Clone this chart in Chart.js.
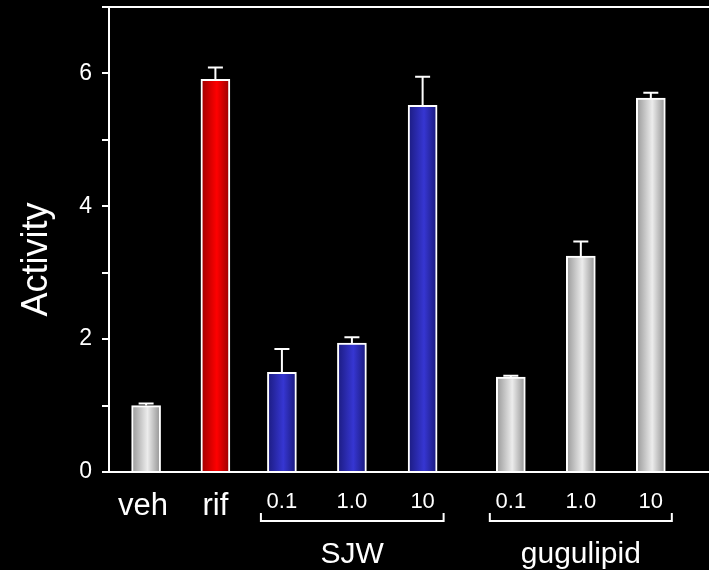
<!DOCTYPE html>
<html>
<head>
<meta charset="utf-8">
<script src="https://cdn.jsdelivr.net/npm/chart.js@4.4.1/dist/chart.umd.min.js"></script>
<style>
html, body { margin: 0; padding: 0; background: #000; }
canvas { display: block; }
</style>
</head>
<body>
<canvas id="activityChart" width="709" height="570"></canvas>
<script>
// values
var labels   = ['veh', 'rif', '0.1', '1.0', '10', '0.1', '1.0', '10'];
var activity = [1.00, 5.91, 1.50, 1.94, 5.52, 1.43, 3.25, 5.63];
var errUp    = [0.03, 0.18, 0.35, 0.09, 0.43, 0.02, 0.22, 0.08];
var kinds    = ['gray', 'red', 'blue', 'blue', 'blue', 'gray', 'gray', 'gray'];
var groupNames = ['SJW', 'gugulipid'];
var groupFrom  = [2, 5];
var groupTo    = [4, 7];

// layout: where each bar sits along the x axis (in slot units)
var slots = [0.53, 1.52, 2.47, 3.47, 4.48, 5.74, 6.74, 7.74];

var FONT = "'Liberation Sans', Arial, sans-serif";
var shades = {
    gray: ['#9a9a9a', '#ececec', '#949494'],
    red:  ['#a00000', '#ff0000', '#9a0000'],
    blue: ['#1c1c82', '#3636d2', '#1a1a7c']
};

function barFill(c) {
    var chart = c.chart;
    if (!chart.chartArea) return '#888';
    var x = chart.scales.x.getPixelForValue(slots[c.dataIndex]);
    var g = chart.ctx.createLinearGradient(x - 14, 0, x + 14, 0);
    var s = shades[kinds[c.dataIndex]];
    g.addColorStop(0, s[0]);
    g.addColorStop(0.55, s[1]);
    g.addColorStop(1, s[2]);
    return g;
}

var extras = {
    id: 'extras',
    beforeDraw: function(chart) {
        var ctx = chart.ctx;
        ctx.save();
        ctx.fillStyle = '#000';
        ctx.fillRect(0, 0, chart.width, chart.height);
        ctx.restore();
    },
    afterDatasetsDraw: function(chart) {
        var ctx = chart.ctx, xs = chart.scales.x, ys = chart.scales.y;
        ctx.save();
        ctx.strokeStyle = '#fff';
        ctx.fillStyle = '#fff';
        ctx.lineWidth = 2;

        // upper error bars
        for (var i = 0; i < activity.length; i++) {
            var x = xs.getPixelForValue(slots[i]);
            var y0 = ys.getPixelForValue(activity[i]);
            var y1 = ys.getPixelForValue(activity[i] + errUp[i]);
            ctx.beginPath();
            ctx.moveTo(x, y0); ctx.lineTo(x, y1);
            ctx.moveTo(x - 7.5, y1); ctx.lineTo(x + 7.5, y1);
            ctx.stroke();
        }

        // bar labels under the axis
        var base = chart.chartArea.bottom;
        ctx.textAlign = 'center';
        ctx.textBaseline = 'alphabetic';
        for (var j = 0; j < labels.length; j++) {
            var lx = xs.getPixelForValue(slots[j]);
            if (j < 2) {
                ctx.font = '31px ' + FONT;
                ctx.fillText(labels[j], j === 0 ? lx - 3 : lx, base + 43);
            } else {
                ctx.font = '22px ' + FONT;
                ctx.fillText(labels[j], lx, base + 36);
            }
        }

        // group brackets and names
        for (var k = 0; k < groupNames.length; k++) {
            var a = xs.getPixelForValue(slots[groupFrom[k]]) - 21;
            var b = xs.getPixelForValue(slots[groupTo[k]]) + 21;
            var by = base + 49;
            ctx.beginPath();
            ctx.moveTo(a, by - 8); ctx.lineTo(a, by); ctx.lineTo(b, by); ctx.lineTo(b, by - 8);
            ctx.stroke();
            ctx.font = '30px ' + FONT;
            ctx.fillText(groupNames[k], (a + b) / 2, base + 91);
        }

        // y axis title
        ctx.translate(47, (chart.chartArea.top + base) / 2 + 20);
        ctx.rotate(-Math.PI / 2);
        ctx.font = '36px ' + FONT;
        ctx.fillText('Activity', 0, 0);
        ctx.restore();
    }
};

var ctx = document.getElementById('activityChart').getContext('2d');
var chart = new Chart(ctx, {
    type: 'bar',
    data: {
        datasets: [{
            data: activity.map(function(v, i) { return { x: slots[i], y: v }; }),
            backgroundColor: barFill,
            borderColor: '#fff',
            borderWidth: 2,
            barThickness: 29
        }]
    },
    options: {
        responsive: false,
        animation: false,
        layout: { padding: { top: 7, right: 0, left: 0, bottom: 0 } },
        plugins: { legend: { display: false }, tooltip: { enabled: false } },
        scales: {
            x: {
                type: 'linear',
                min: 0,
                max: 8.571,
                offset: false,
                grid: { display: false },
                ticks: { display: false },
                border: { color: '#fff', width: 2 },
                afterFit: function(scale) {
                    scale.height = 98;
                    scale.paddingLeft = 0; scale.paddingRight = 0;
                }
            },
            y: {
                min: 0,
                max: 7,
                ticks: {
                    stepSize: 1,
                    color: '#fff',
                    padding: 10,
                    font: { family: FONT, size: 23 },
                    callback: function(v) { return (v % 2 === 0 && v < 7) ? v : ''; }
                },
                grid: {
                    drawOnChartArea: true,
                    color: function(c) { return c.tick && c.tick.value === 7 ? '#fff' : 'rgba(0,0,0,0)'; },
                    tickColor: '#fff',
                    tickLength: 7,
                    lineWidth: 2
                },
                border: { color: '#fff', width: 2 },
                afterFit: function(scale) {
                    scale.width = 109;
                    scale.paddingTop = 0; scale.paddingBottom = 0;
                }
            }
        }
    },
    plugins: [extras]
});
</script>
</body>
</html>
